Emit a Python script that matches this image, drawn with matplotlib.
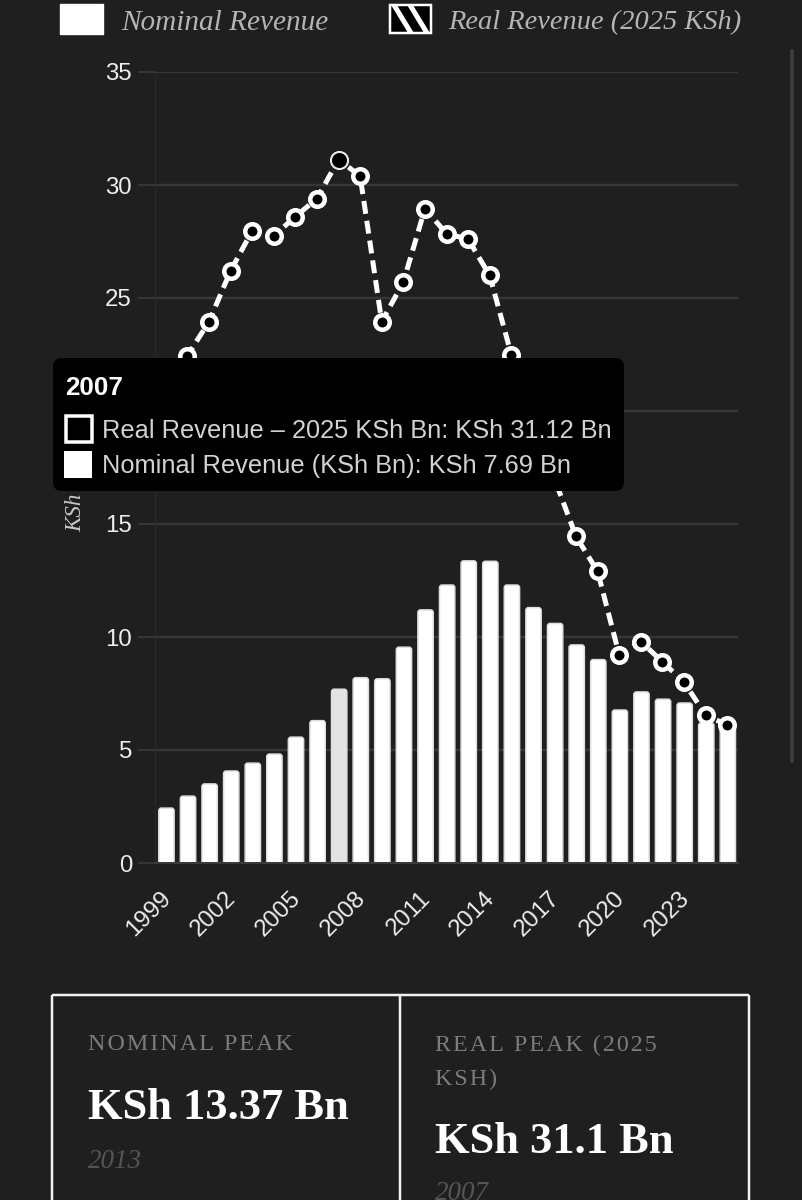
import matplotlib
matplotlib.use("Agg")
import matplotlib.pyplot as plt
from matplotlib.patches import FancyBboxPatch, Rectangle
from matplotlib.transforms import ScaledTranslation

# values, KSh Bn
years = list(range(1999, 2026))
nominal = [2.43, 2.96, 3.50, 4.07, 4.42, 4.82, 5.57, 6.30, 7.69, 8.20, 8.15, 9.55, 11.20, 12.30,
           13.37, 13.35, 12.30, 11.30, 10.60, 9.65, 9.00, 6.77, 7.57, 7.25, 7.08, 6.20, 6.00]
real = [20.8, 22.45, 23.95, 26.2, 27.97, 27.75, 28.6, 29.4, 31.12, 30.4, 23.95, 25.7, 28.95, 27.85,
        27.6, 26.0, 22.5, 20.0, 17.0, 14.45, 12.9, 9.2, 9.8, 8.9, 8.0, 6.55, 6.1]
highlight_year = 2007
y_ticks = [0, 5, 10, 15, 20, 25, 30, 35]
x_tick_years = years[::3]

BG = "#1f1f1f"
SANS = "Liberation Sans"
SERIF = "Liberation Serif"
PX = 72 / 100  # points per pixel at dpi 100


def spaced(s):
    return "\u200a".join(s)


fig = plt.figure(figsize=(8.02, 12), dpi=100, facecolor=BG)

# main chart
ax = fig.add_axes([155 / 802, 1 - 863 / 1200, (738 - 155) / 802, (863 - 72) / 1200], facecolor=BG)
ax.set_xlim(-0.5, 26.5)
ax.set_ylim(0, 35)
ax.set_yticks(y_ticks)
ax.set_xticks([years.index(y) for y in x_tick_years])
ax.set_xticklabels(x_tick_years, rotation=45, ha="right", rotation_mode="anchor",
                   fontsize=24 * PX, family=SANS, color="#eeeeee")
for lab in ax.get_yticklabels():
    lab.set_family(SANS)
    lab.set_fontsize(24 * PX)
    lab.set_color("#eeeeee")
ax.tick_params(axis="y", length=17 * PX, width=2 * PX, color="#363636", pad=6 * PX)
ax.tick_params(axis="x", length=0, pad=26 * PX)
# has to come after tick_params, which resets the label transforms
for lab in ax.get_xticklabels():
    lab.set_transform(lab.get_transform() + ScaledTranslation(-6 / 100, 2 / 100, fig.dpi_scale_trans))
ax.grid(axis="y", color="#363636", linewidth=2.5 * PX, zorder=0)
ax.set_axisbelow(True)
for name in ["top", "right"]:
    ax.spines[name].set_visible(False)
ax.spines["left"].set_color("#2b2b2b")
ax.spines["bottom"].set_color("#3a3a3a")
ax.spines["bottom"].set_linewidth(2 * PX)

# bars with rounded tops, the bottom rounding falls under the axis and is clipped
bar_w = 0.71
r = 0.12
for i, v in enumerate(nominal):
    col = "#e3e3e3" if years[i] == highlight_year else "white"
    ax.add_patch(FancyBboxPatch((i + 0.03 - bar_w / 2 + r, -1), bar_w - 2 * r, v + 1 - r,
                                boxstyle="round,pad=%g,rounding_size=%g" % (r, r),
                                facecolor=col, edgecolor="#dedede", linewidth=1.5 * PX, zorder=2))

# dashed line with ring markers
xs = list(range(len(years)))
ax.plot(xs, real, color="white", linewidth=5 * PX, linestyle=(0, (2.6, 1.4)), zorder=3, clip_on=False)
ax.plot(xs, real, linestyle="none", marker="o", markersize=14.5 * PX, markerfacecolor="black",
        markeredgecolor="white", markeredgewidth=4.5 * PX, zorder=4, clip_on=False)
h = years.index(highlight_year)
ax.plot([h], [real[h]], linestyle="none", marker="o", markersize=16.5 * PX, markerfacecolor="black",
        markeredgecolor="#e8e8e8", markeredgewidth=1.5 * PX, zorder=5, clip_on=False)

# page furniture in pixel coordinates
ov = fig.add_axes([0, 0, 1, 1], facecolor="none")
ov.set_xlim(0, 802)
ov.set_ylim(1200, 0)
ov.axis("off")

# legend
ov.add_patch(Rectangle((60, 4), 43, 30, facecolor="white", edgecolor="white", linewidth=1))
ov.text(121, 23, "Nominal Revenue", family=SERIF, style="italic", fontsize=29.3 * PX,
        color="#b5b5b5", va="center")
swatch = Rectangle((390, 5), 41, 28, facecolor="black", edgecolor="none")
ov.add_patch(swatch)
for sx in [394, 410]:
    stripe, = ov.plot([sx, sx + 17], [5, 33], color="white", linewidth=5 * PX)
    stripe.set_clip_path(swatch)
ov.add_patch(Rectangle((390, 5), 41, 28, facecolor="none", edgecolor="white", linewidth=2.5 * PX))
ov.text(448, 23, "Real Revenue (2025 KSh)", family=SERIF, style="italic", fontsize=28.4 * PX,
        color="#b5b5b5", va="center")

# y axis title, mostly under the tooltip
ov.text(76, 532, "KSh Billions", family=SERIF, style="italic", fontsize=23 * PX, color="#c8c8c8",
        rotation=90, ha="center", va="bottom")

# scrollbar
ov.add_patch(FancyBboxPatch((790, 49), 4, 714, boxstyle="round,pad=0,rounding_size=2",
                            facecolor="#3c3c3c", edgecolor="none"))

# tooltip
ov.add_patch(FancyBboxPatch((61, 366), 555, 117, boxstyle="round,pad=8,rounding_size=9",
                            facecolor="black", edgecolor="none", zorder=10))
ov.text(65, 388, "2007", family=SANS, weight="bold", fontsize=26 * PX, color="white", va="center", zorder=11)
ov.add_patch(Rectangle((65.5, 416), 26, 26, facecolor="black", edgecolor="white", linewidth=3.5 * PX, zorder=11))
ov.add_patch(Rectangle((64, 451), 28, 27, facecolor="white", edgecolor="none", zorder=11))
ov.text(102, 431.5, "Real Revenue \u2013 2025 KSh Bn: KSh 31.12 Bn", family=SANS, fontsize=25.4 * PX,
        color="#d2d2d2", va="center", zorder=11)
ov.text(102, 466.5, "Nominal Revenue (KSh Bn): KSh 7.69 Bn", family=SANS, fontsize=25.4 * PX,
        color="#d2d2d2", va="center", zorder=11)

# stat cards, cut off by the bottom of the page
for x0, x1, y0, y1 in [(52, 749, 995, 995), (52, 52, 995, 1200), (400, 400, 995, 1200), (749, 749, 995, 1200)]:
    ov.plot([x0, x1], [y0, y1], color="#f2f2f2", linewidth=2.5 * PX, solid_capstyle="butt")

LABEL = "#7c7c7c"
ov.text(88, 1045, spaced("NOMINAL PEAK"), family=SERIF, fontsize=24 * PX, color=LABEL, va="center")
ov.text(88, 1108, "KSh 13.37 Bn", family=SERIF, weight="bold", fontsize=44.5 * PX, color="white", va="center")
ov.text(88, 1161, "2013", family=SERIF, style="italic", fontsize=27 * PX, color="#555555", va="center")
ov.text(435, 1045, spaced("REAL PEAK (2025"), family=SERIF, fontsize=24 * PX, color=LABEL, va="center")
ov.text(435, 1079, spaced("KSH)"), family=SERIF, fontsize=24 * PX, color=LABEL, va="center")
ov.text(435, 1142, "KSh 31.1 Bn", family=SERIF, weight="bold", fontsize=44.5 * PX, color="white", va="center")
ov.text(435, 1193, "2007", family=SERIF, style="italic", fontsize=27 * PX, color="#555555", va="center")

fig.savefig("out.png", dpi=100, facecolor=BG)
